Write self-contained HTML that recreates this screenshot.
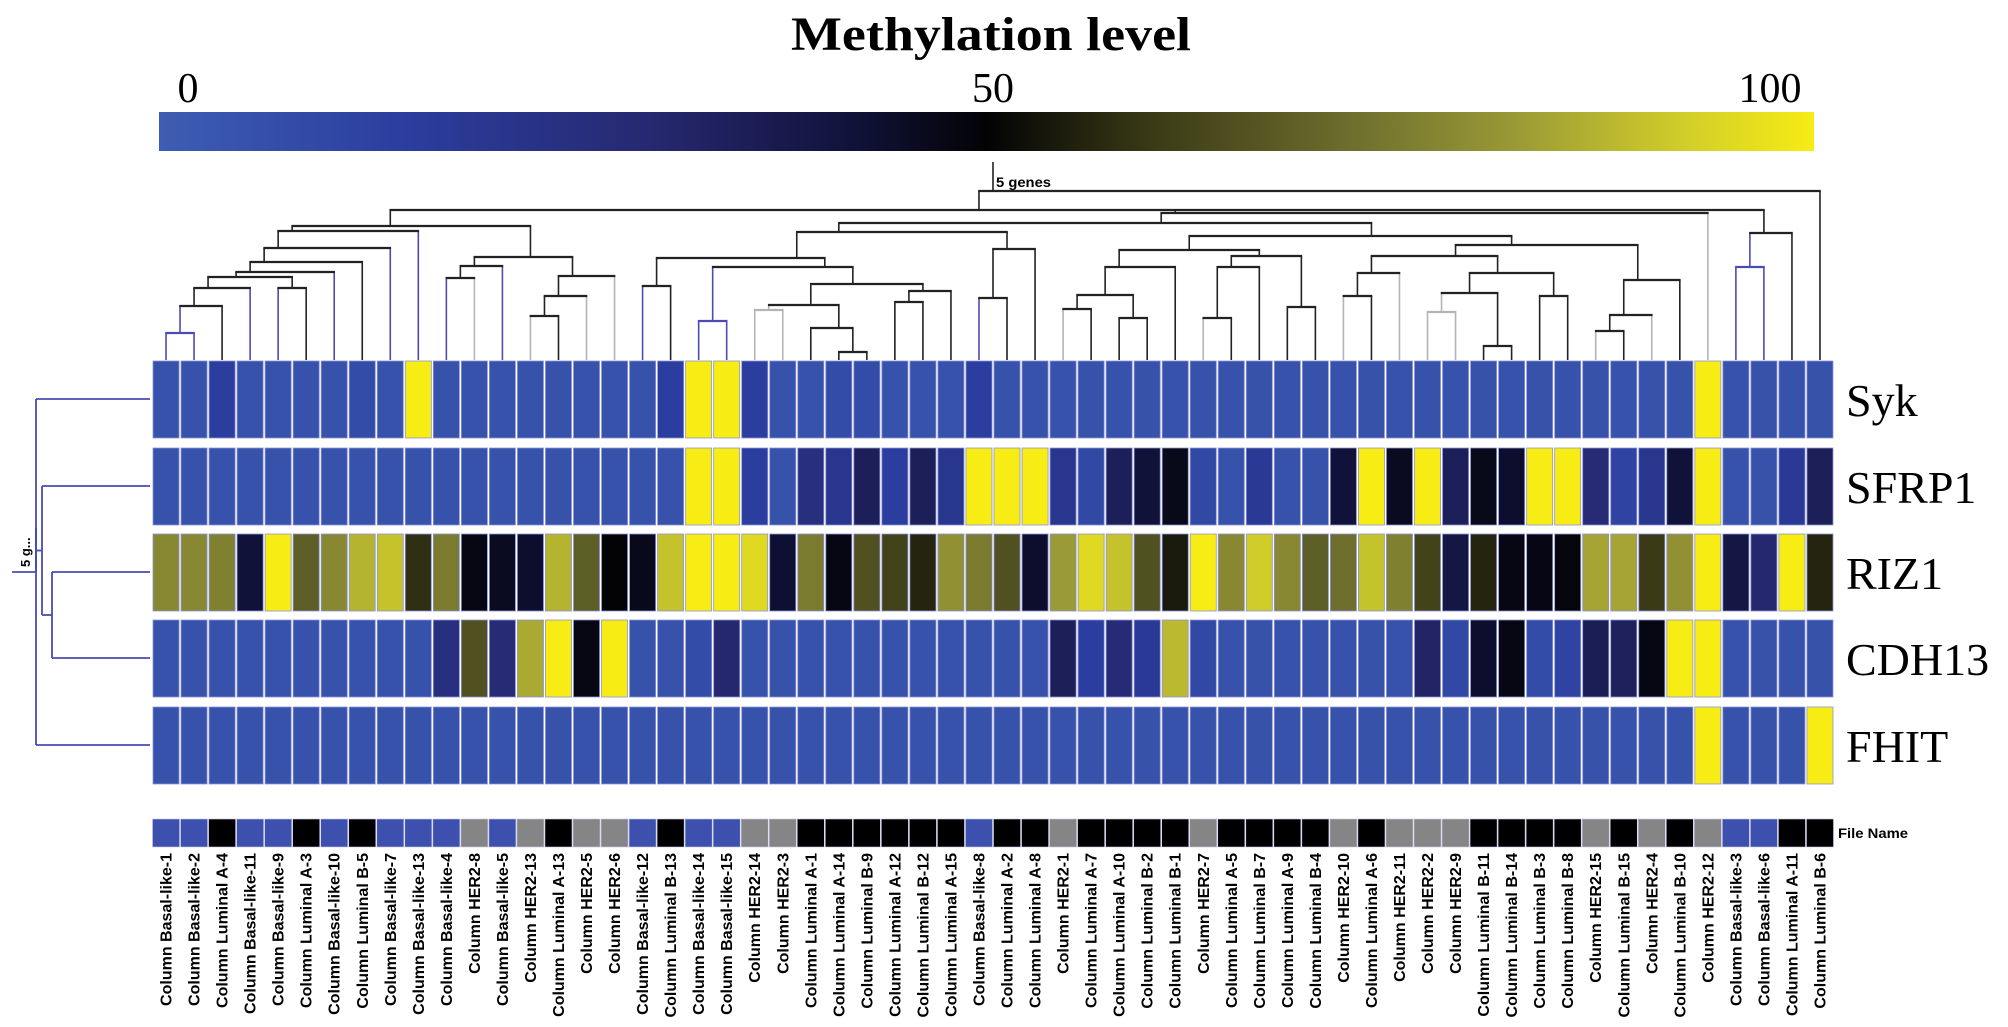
<!DOCTYPE html>
<html><head><meta charset="utf-8"><title>Methylation heatmap</title>
<style>
html,body{margin:0;padding:0;background:#fff;}
svg{display:block;}
.serif{font-family:"Liberation Serif",serif;}
.sans{font-family:"Liberation Sans",sans-serif;}
</style></head>
<body>
<svg id="chart" width="2008" height="1027" viewBox="0 0 2008 1027" xmlns="http://www.w3.org/2000/svg">
<defs>
<linearGradient id="scaleGrad" x1="0" x2="1" y1="0" y2="0">
<stop offset="0" stop-color="#3d5db2"/>
<stop offset="0.15" stop-color="#2b3d9e"/>
<stop offset="0.3" stop-color="#26286f"/>
<stop offset="0.42" stop-color="#10123a"/>
<stop offset="0.5" stop-color="#030305"/>
<stop offset="0.6" stop-color="#3a3a16"/>
<stop offset="0.72" stop-color="#6e6e2e"/>
<stop offset="0.82" stop-color="#9a9a36"/>
<stop offset="0.92" stop-color="#d0cd2a"/>
<stop offset="1" stop-color="#f7ec14"/>
</linearGradient>
</defs>
<text class="serif" x="991" y="50" font-size="48" font-weight="bold" text-anchor="middle" textLength="400" lengthAdjust="spacingAndGlyphs">Methylation level</text>
<g>
<text class="serif" x="188" y="102" font-size="42" text-anchor="middle">0</text>
<text class="serif" x="993" y="102" font-size="42" text-anchor="middle">50</text>
<text class="serif" x="1770" y="102" font-size="42" text-anchor="middle">100</text>
<rect x="159" y="112" width="1655" height="39" fill="url(#scaleGrad)"/>
</g>
<g id="colDendro"></g>
<g id="rowDendro"></g>
<g id="cells"></g>
<g id="geneLabels"></g>
<g id="fileBar"></g>
<g id="colLabels"></g>
<text class="sans" x="1838" y="838" font-size="14" font-weight="bold" textLength="70" lengthAdjust="spacingAndGlyphs">File Name</text>
<text class="sans" x="996" y="187" font-size="14" font-weight="bold" textLength="55" lengthAdjust="spacingAndGlyphs">5 genes</text>
</svg>
<script>
const samples = ["Basal-like-1","Basal-like-2","Luminal A-4","Basal-like-11","Basal-like-9","Luminal A-3","Basal-like-10","Luminal B-5","Basal-like-7","Basal-like-13","Basal-like-4","HER2-8","Basal-like-5","HER2-13","Luminal A-13","HER2-5","HER2-6","Basal-like-12","Luminal B-13","Basal-like-14","Basal-like-15","HER2-14","HER2-3","Luminal A-1","Luminal A-14","Luminal B-9","Luminal A-12","Luminal B-12","Luminal A-15","Basal-like-8","Luminal A-2","Luminal A-8","HER2-1","Luminal A-7","Luminal A-10","Luminal B-2","Luminal B-1","HER2-7","Luminal A-5","Luminal B-7","Luminal A-9","Luminal B-4","HER2-10","Luminal A-6","HER2-11","HER2-2","HER2-9","Luminal B-11","Luminal B-14","Luminal B-3","Luminal B-8","HER2-15","Luminal B-15","HER2-4","Luminal B-10","HER2-12","Basal-like-3","Basal-like-6","Luminal A-11","Luminal B-6"];
const genes = ["Syk","SFRP1","RIZ1","CDH13","FHIT"];
const sykValues = [5,5,15,5,5,5,5,8,5,100,5,5,5,5,5,5,5,5,15,100,100,15,5,5,8,8,5,5,5,15,5,5,5,5,5,5,5,5,5,5,5,5,5,5,5,5,5,5,5,5,5,5,5,5,5,100,5,5,5,5];
const sfrp1Values = [5,5,5,5,5,5,5,5,5,5,5,5,5,5,5,5,5,5,5,100,100,15,5,25,20,35,15,35,20,100,100,100,20,10,35,42,47,10,5,18,5,5,42,100,46,100,35,47,44,100,100,28,12,20,42,100,5,5,18,35];
const riz1Values = [78,78,76,42,100,68,78,87,90,58,75,48,46,44,87,68,50,47,90,100,100,95,43,75,48,65,62,56,80,75,65,44,82,95,90,65,54,100,78,92,78,68,72,90,76,62,40,56,48,48,49,84,84,60,80,100,40,30,100,56];
const cdh13Values = [5,5,5,5,5,5,5,5,5,5,25,65,28,85,100,48,100,5,5,8,30,5,5,5,5,5,5,5,5,5,5,5,35,15,28,18,88,10,5,5,5,5,5,5,5,32,10,44,48,8,12,36,34,48,100,100,5,5,5,5];
const fhitValues = [5,5,5,5,5,5,5,5,5,5,5,5,5,5,5,5,5,5,5,5,5,5,5,5,5,5,5,5,5,5,5,5,5,5,5,5,5,5,5,5,5,5,5,5,5,5,5,5,5,5,5,5,5,5,5,100,5,5,5,100];
const geneSeries = [sykValues, sfrp1Values, riz1Values, cdh13Values, fhitValues];
const colMerges = [[0,1],[60,2],[61,3],[4,5],[62,63],[64,6],[65,7],[66,8],[67,9],[10,11],[69,12],[13,14],[71,15],[72,16],[70,73],[68,74],[17,18],[19,20],[21,22],[24,25],[23,79],[78,80],[26,27],[82,28],[81,83],[77,84],[76,85],[29,30],[87,31],[86,88],[32,33],[34,35],[90,91],[92,36],[37,38],[94,39],[40,41],[95,96],[93,97],[42,43],[99,44],[45,46],[47,48],[101,102],[49,50],[103,104],[100,105],[51,52],[107,53],[108,54],[106,109],[98,110],[89,111],[112,55],[56,57],[114,58],[75,113,115],[116,59]];
const colMergeDist = [27,54,72,72,83,88,98,112,129,82,94,44,64,84,103,134,74,39,50,8,32,55,58,69,76,93,102,62,111,128,51,42,65,93,42,93,53,104,110,64,87,48,14,67,64,87,104,29,45,80,115,124,137,147,93,127,150,169];
const rowMerges = [[2,3],[1,5],[0,6,4]];
const rowMergeDist = [98,108,114];

const svgNS = "http://www.w3.org/2000/svg";
const X0 = 152, X1 = 1834, N = samples.length, CW = (X1 - X0) / N;
const rowTops = [360, 447, 533, 619, 706], RH = 78;
const HM_TOP = 360;
function colX(i){ return X0 + CW * (i + 0.5); }
function distY(d){ return HM_TOP - d; }
function typeOf(s){ return s.startsWith("Basal") ? "basal" : (s.startsWith("HER2") ? "her2" : "luminal"); }
const barColor = {basal:"#3d50ae", her2:"#858585", luminal:"#000000"};
const lineColor = {basal:"#4a4cb4", her2:"#b4b4b4", luminal:"#222222", mixed:"#222222"};
const stops = [[0,[61,93,178]],[15,[43,61,158]],[30,[38,40,111]],[42,[16,18,58]],[50,[3,3,5]],[60,[58,58,22]],[72,[110,110,46]],[82,[154,154,54]],[92,[208,205,42]],[100,[247,236,20]]];
function colorOf(v){
  for (let k = 1; k < stops.length; k++){
    if (v <= stops[k][0]){
      const a = stops[k-1], b = stops[k], t = (v - a[0]) / (b[0] - a[0]);
      const c = a[1].map((q, j) => Math.round(q + (b[1][j] - q) * t));
      return "rgb(" + c.join(",") + ")";
    }
  }
  return "rgb(247,236,20)";
}
function mk(tag, attrs, parent){
  const e = document.createElementNS(svgNS, tag);
  for (const k in attrs) e.setAttribute(k, attrs[k]);
  parent.appendChild(e);
  return e;
}

const cellsG = document.getElementById("cells");
geneSeries.forEach((vals, r) => {
  vals.forEach((v, i) => {
    const rc = mk("rect", {x: X0 + CW * i + 1, y: rowTops[r] + 1, width: CW - 2, height: RH - 1, fill: colorOf(v), stroke: "#8c93d6", "stroke-width": 0.8}, cellsG);
    
    
  });
});

const glG = document.getElementById("geneLabels");
genes.forEach((g, r) => {
  const t = mk("text", {x: 1846, y: rowTops[r] + RH / 2 + 17, "font-size": 46, class: "serif"}, glG);
  t.textContent = g;
  
  
});

const fbG = document.getElementById("fileBar");
const clG = document.getElementById("colLabels");
samples.forEach((s, i) => {
  const b = mk("rect", {x: X0 + CW * i + 0.5, y: 819, width: CW - 1, height: 28, fill: barColor[typeOf(s)], stroke: "#c8c8e8", "stroke-width": 0.6}, fbG);
  
  
  const cx = colX(i) + 5.5;
  const t = mk("text", {transform: "translate(" + cx + ",853) rotate(-90)", "text-anchor": "end", "font-size": 16, "font-weight": "bold", class: "sans"}, clG);
  t.textContent = "Column " + s;
  
  
});

const cdG = document.getElementById("colDendro");
const nodeLeaves = [], nodeX = [], nodeY = [], nodeType = [];
samples.forEach((s, i) => { nodeLeaves[i] = [i]; nodeX[i] = colX(i); nodeY[i] = HM_TOP; nodeType[i] = typeOf(s); });
colMerges.forEach((ch, k) => {
  const id = N + k;
  let leaves = [];
  ch.forEach(c => { leaves = leaves.concat(nodeLeaves[c]); });
  nodeLeaves[id] = leaves;
  nodeX[id] = leaves.reduce((a, l) => a + colX(l), 0) / leaves.length;
  nodeY[id] = distY(colMergeDist[k]);
  const types = new Set(leaves.map(l => typeOf(samples[l])));
  nodeType[id] = types.size === 1 ? [...types][0] : "mixed";
  ch.forEach(c => {
    const v = mk("line", {x1: nodeX[c], x2: nodeX[c], y1: nodeY[c], y2: nodeY[id], stroke: lineColor[nodeType[c]], "stroke-width": 1.6}, cdG);
    
    
  });
  const xs = ch.map(c => nodeX[c]);
  const h = mk("line", {x1: Math.min(...xs) - 0.8, x2: Math.max(...xs) + 0.8, y1: nodeY[id], y2: nodeY[id], stroke: lineColor[nodeType[id]], "stroke-width": 2.2}, cdG);
  
  
});
const rootId = N + colMerges.length - 1;
const stem = mk("line", {x1: nodeX[rootId], x2: nodeX[rootId], y1: nodeY[rootId], y2: 162, stroke: "#222", "stroke-width": 1.6}, cdG);



const rdG = document.getElementById("rowDendro");
const RX = 150;
const rY = [], rX = [];
genes.forEach((g, r) => { rY[r] = rowTops[r] + RH / 2; rX[r] = RX; });
rowMerges.forEach((ch, k) => {
  const id = genes.length + k;
  rX[id] = RX - rowMergeDist[k];
  const ys = ch.map(c => rY[c]);
  rY[id] = (Math.min(...ys) + Math.max(...ys)) / 2;
  if (ch.length === 3) rY[id] = 572;
  ch.forEach(c => {
    const l = mk("line", {x1: rX[c], x2: rX[id], y1: rY[c], y2: rY[c], stroke: "#4a4cb4", "stroke-width": 1.8}, rdG);
    
    
  });
  const v = mk("line", {x1: rX[id], x2: rX[id], y1: Math.min(...ys), y2: Math.max(...ys), stroke: "#4a4cb4", "stroke-width": 1.8}, rdG);
  
  
});
const rootRow = genes.length + rowMerges.length - 1;
const rstem = mk("line", {x1: 12, x2: rX[rootRow], y1: 572, y2: 572, stroke: "#4a4cb4", "stroke-width": 1.8}, rdG);


const rtick = mk("line", {x1: 36, x2: 36, y1: 528, y2: 572, stroke: "#4a4cb4", "stroke-width": 2}, rdG);


const rlab = mk("text", {transform: "translate(30,567) rotate(-90)", "font-size": 13, "font-weight": "bold", class: "sans"}, rdG);
rlab.textContent = "5 g...";


</script>
</body></html>
